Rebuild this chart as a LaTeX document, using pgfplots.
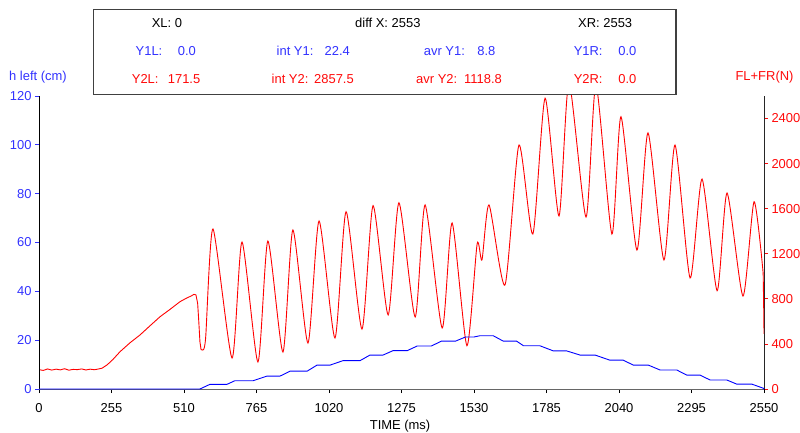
\documentclass[border=0pt]{standalone}
\usepackage{pgfplots}
\pgfplotsset{compat=1.18}
\usepackage{fontspec}
\setmainfont{Liberation Sans}
\definecolor{tblue}{RGB}{50,50,255}
\definecolor{tred}{RGB}{255,10,10}
\definecolor{lblue}{RGB}{0,0,255}
\definecolor{lred}{RGB}{255,0,0}

\pgfplotstableread{
t v
0 0
566 0
601 1.9
661 1.9
689 3.4
753 3.4
802 5.3
848 5.3
883 7.3
943 7.3
978 9.8
1024 9.8
1069 11.6
1129 11.6
1164 13.9
1210 13.9
1245 15.7
1295 15.7
1330 17.6
1380 17.6
1415 19.6
1465 19.6
1500 21.3
1530 21.3
1550 21.8
1598 21.8
1633 19.6
1680 19.6
1704 17.7
1762 17.7
1809 15.6
1856 15.6
1903 13.9
1956 13.9
2008 11.8
2055 11.8
2090 9.8
2143 9.8
2184 7.8
2243 7.8
2278 5.7
2325 5.7
2360 3.7
2419 3.7
2454 2.0
2507 2.0
2548 0.3
2550 0
}\hleft

\pgfplotstableread{
t v
0 171.5
15 165
30 178
45 168
60 176
75 170
90 180
105 167
120 174
135 172
150 178
165 169
180 176
195 171
210 178
222 185
240 215
260 262
285 331
320 410
355 479
390 560
426 642
460 705
496 775
520 808
535 825
545 840
552 835
558 760
562 600
566 420
570 350
576 345
}\forceA

\pgfplotstableread{
t v
576 345
586 450
612 1420
679 275
714 1304
770 240
805 1313
858 328
893 1411
946 408
985 1491
1041 453
1080 1573
1136 532
1175 1627
1228 657
1266 1653
1323 639
1358 1633
1418 541
1453 1473
1505 384
1541 1287
1558 1145
1583 1633
1639 923
1688 2165
1737 1375
1780 2580
1829 1535
1864 2720
1924 1526
1959 2700
2015 1375
2047 2416
2103 1233
2142 2272
2198 1145
2237 2165
2290 985
2332 1863
2385 872
2420 1739
2476 825
2515 1662
2547 1029
}\forceB

\pgfplotstableread{
t v
2547 1029
2549 700
2550 490
}\forceC

\begin{document}
\begin{tikzpicture}[x=1bp,y=1bp,font=\fontsize{13}{15}\selectfont]
\path[use as bounding box] (0,0) rectangle (800,432);
\pgfplotsset{
  common/.style={
    at={(39bp,43bp)}, anchor=south west, scale only axis,
    width=725bp, height=293bp,
    xmin=0, xmax=2550,
    tick align=outside, major tick length=4bp,
    /pgf/number format/assume math mode=true,
    /pgf/number format/1000 sep={},
    scaled ticks=false,
    ticklabel style={font=\fontsize{13}{15}\selectfont},
  }
}
% right axis, red
\begin{axis}[common,
  axis x line=none, axis y line*=right,
  ymin=0, ymax=2600, ytick={0,400,800,1200,1600,2000,2400},
  y axis line style={black!85, line width=0.8bp},
  ytick style={tred, line width=0.8bp},
  yticklabel style={text=tred},
  every axis y label/.style={at={(axis description cs:1.0455,1.066)}, anchor=east, text=tred, font=\fontsize{13}{15}\selectfont},
  ylabel={FL+FR(N)},
]
\addplot[lred, line width=0.9bp] table[x=t,y=v] {\forceA};
\addplot[lred, line width=0.9bp, smooth, tension=0.4] table[x=t,y=v] {\forceB};
\addplot[lred, line width=0.9bp] table[x=t,y=v] {\forceC};
\end{axis}
% left axis, blue
\begin{axis}[common, clip=false,
  axis x line*=bottom, axis y line*=left,
  ymin=0, ymax=120, ytick={0,20,40,60,80,100,120},
  xtick={0,255,510,765,1020,1275,1530,1785,2040,2295,2550},
  x axis line style={black!60, line width=0.8bp},
  y axis line style={black, line width=0.8bp},
  xtick style={black, line width=0.8bp},
  ytick style={tblue, line width=0.8bp},
  yticklabel style={text=tblue},
  xticklabel style={yshift=-7bp},
  every axis y label/.style={at={(axis description cs:-0.0014,1.066)}, anchor=center, text=tblue, font=\fontsize{13}{15}\selectfont},
  ylabel={h left (cm)},
  every axis x label/.style={at={(axis description cs:0.498,-0.126)}, anchor=center, font=\fontsize{13}{15}\selectfont},
  xlabel={TIME (ms)},
]
\addplot[lblue, line width=0.9bp] table[x=t,y=v] {\hleft};
\end{axis}
% info box
\filldraw[fill=white, draw=black!75, line width=1.1bp] (93.5,337.7) rectangle (676,422.7);
\begin{scope}[every node/.style={inner sep=0pt}]
\node[anchor=base west] at (151.6,404.65) {XL: 0};
\node[anchor=base west] at (355,404.65) {diff X: 2553};
\node[anchor=base west] at (578,404.65) {XR: 2553};
\begin{scope}[text=tblue]
\node[anchor=base west] at (135.5,376.65) {Y1L:};
\node[anchor=base east] at (196,376.65) {0.0};
\node[anchor=base west] at (276.5,376.65) {int Y1:};
\node[anchor=base east] at (350,376.65) {22.4};
\node[anchor=base west] at (423.7,376.65) {avr Y1:};
\node[anchor=base east] at (495.6,376.65) {8.8};
\node[anchor=base west] at (573.6,376.65) {Y1R:};
\node[anchor=base east] at (636.6,376.65) {0.0};
\end{scope}
\begin{scope}[text=tred]
\node[anchor=base west] at (131.7,348.35) {Y2L:};
\node[anchor=base east] at (200.5,348.35) {171.5};
\node[anchor=base west] at (271.5,348.35) {int Y2:};
\node[anchor=base east] at (354,348.35) {2857.5};
\node[anchor=base west] at (416,348.35) {avr Y2:};
\node[anchor=base east] at (502,348.35) {1118.8};
\node[anchor=base west] at (573.6,348.35) {Y2R:};
\node[anchor=base east] at (636.6,348.35) {0.0};
\end{scope}
\end{scope}
\end{tikzpicture}
\end{document}
